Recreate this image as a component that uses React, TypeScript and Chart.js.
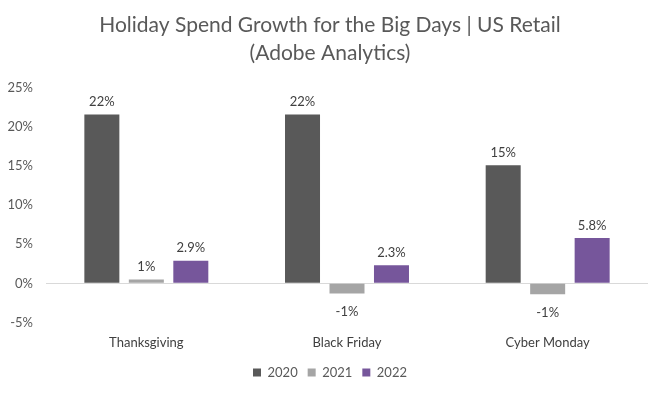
import React, { useEffect, useRef } from "react";
import { Chart, registerables } from "chart.js";

Chart.register(...registerables);

const categories = ["Thanksgiving", "Black Friday", "Cyber Monday"];
const seriesNames = ["2020", "2021", "2022"];
const values2020 = [21.6, 21.6, 15.1];
const values2021 = [0.5, -1.3, -1.4];
const values2022 = [2.9, 2.3, 5.8];
const labels2020 = ["22%", "22%", "15%"];
const labels2021 = ["1%", "-1%", "-1%"];
const labels2022 = ["2.9%", "2.3%", "5.8%"];
const colors = ["#595959", "#A5A5A5", "#76569B"];
const titleLines = ["Holiday Spend Growth for the Big Days | US Retail", "(Adobe Analytics)"];

const FONT = "Lato, 'Open Sans', sans-serif";

export default function App() {
  const ref = useRef<HTMLCanvasElement | null>(null);
  useEffect(() => {
    document.body.style.margin = "0";
    const allLabels = [labels2020, labels2021, labels2022];
    const labelPlugin = {
      id: "barLabels",
      afterDatasetsDraw(chart: any) {
        const ctx = chart.ctx;
        ctx.save();
        ctx.font = `13px ${FONT}`;
        ctx.fillStyle = "#404040";
        ctx.textAlign = "center";
        chart.data.datasets.forEach((ds: any, i: number) => {
          const meta = chart.getDatasetMeta(i);
          meta.data.forEach((el: any, j: number) => {
            const v = ds.data[j];
            const txt = allLabels[i][j];
            if (v >= 0) {
              ctx.textBaseline = "bottom";
              ctx.fillText(txt, el.x, el.y - 6);
            } else {
              ctx.textBaseline = "top";
              ctx.fillText(txt, el.x, el.y + 12);
            }
          });
        });
        ctx.restore();
      },
    };
    const chart = new Chart(ref.current!, {
      type: "bar",
      data: {
        labels: categories,
        datasets: [values2020, values2021, values2022].map((d, i) => ({
          label: seriesNames[i],
          data: d,
          backgroundColor: colors[i],
          categoryPercentage: 0.665,
          barPercentage: 0.787,
          yAxisID: "y",
        })),
      },
      options: {
        animation: false,
        responsive: false,
        maintainAspectRatio: false,
        layout: { padding: { left: 0, right: 0, top: 0, bottom: 7 } },
        plugins: {
          title: {
            display: true,
            text: titleLines,
            color: "#595959",
            font: { family: FONT, size: 21, weight: "normal", lineHeight: 1.333 },
            padding: { top: 11, bottom: 21 },
          },
          legend: {
            position: "bottom",
            labels: {
              boxWidth: 8,
              boxHeight: 8,
              color: "#595959",
              font: { family: FONT, size: 13 },
              padding: 10,
            },
          },
          tooltip: { enabled: false },
        },
        scales: {
          x: {
            grid: { display: false, drawTicks: false },
            border: { display: false },
            afterFit: (s: any) => {
              s.height -= 8;
            },
            ticks: { color: "#404040", font: { family: FONT, size: 13 }, padding: 13 },
          },
          y: {
            min: -5,
            max: 25,
            afterFit: (s: any) => {
              s.width = 46;
            },
            ticks: {
              stepSize: 5,
              color: "#595959",
              font: { family: FONT, size: 13 },
              padding: 13,
              callback: (v: any) => `${v}%`,
            },
            border: { display: false },
            grid: {
              drawTicks: false,
              color: (c: any) => (c.tick && c.tick.value === 0 ? "#D9D9D9" : "rgba(0,0,0,0)"),
            },
          },
          yRight: {
            type: "linear",
            position: "right",
            display: true,
            afterFit: (s: any) => {
              s.width = 12;
            },
            ticks: { display: false },
            grid: { display: false },
            border: { display: false },
          },
        },
      },
      plugins: [labelPlugin],
    });
    return () => chart.destroy();
  }, []);
  return (
    <div style={{ width: 660, height: 396, background: "#fff" }}>
      <canvas ref={ref} width={660} height={396} />
    </div>
  );
}
